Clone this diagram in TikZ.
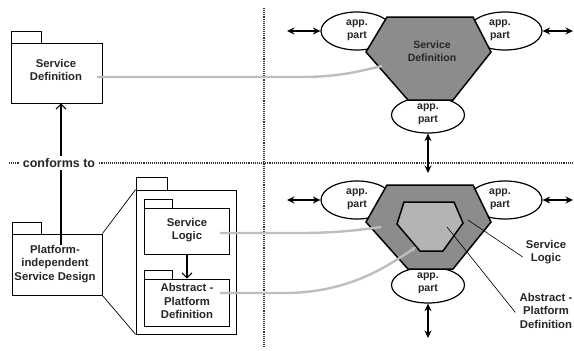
\documentclass[tikz,border=0pt]{standalone}
\usepackage{fontspec}
\setmainfont{Liberation Sans}
\usetikzlibrary{arrows.meta,shapes.geometric}
\definecolor{hexdark}{HTML}{8C8C8C}
\definecolor{hexlight}{HTML}{B4B4B4}
\definecolor{glink}{HTML}{BEBEBE}
\definecolor{txtc}{HTML}{262626}
\begin{document}
\begin{tikzpicture}[x=1pt,y=-1pt,
  lbl/.style={font=\bfseries\fontsize{10.5}{13}\selectfont, align=center, text=txtc, inner sep=0pt},
  biglbl/.style={lbl, font=\bfseries\fontsize{11.3}{13.5}\selectfont},
  pkgbody/.style={draw, line width=0.8pt, fill=white, inner sep=0pt},
  pkgtab/.style={draw, line width=0.8pt, fill=white, inner sep=0pt},
  appell/.style={ellipse, draw, line width=1.2pt, fill=white, inner sep=0pt},
  hexouter/.style={draw, line width=1.5pt, fill=hexdark},
  hexinner/.style={draw, line width=1.5pt, fill=hexlight},
  dblarrow/.style={{Stealth[length=7.5pt,width=7pt]}-{Stealth[length=7.5pt,width=7pt]}, line width=1.5pt},
  openarrow/.style={-{Straight Barb[length=5pt,width=10pt]}, line width=1.1pt},
  graylink/.style={glink, line width=2.4pt},
  pointer/.style={line width=0.6pt},
  sep/.style={densely dotted, line width=1.1pt, black!80}
]
\useasboundingbox (0,0) rectangle (574,351);

% separators
\draw[sep] (9,163) -- (574,163);
\draw[sep] (264,8) -- (264,348);

% left packages
\node[pkgtab, minimum width=29.5pt, minimum height=12pt] (tabA) at (26.4,37) {};
\node[pkgbody, minimum width=91pt, minimum height=60pt] (pkgA) at (57.2,73) {};
\node[biglbl] (txtA) at (56,70) {Service\\Definition};

\node[pkgtab, minimum width=29pt, minimum height=12pt] (tabB) at (26.5,228) {};
\node[pkgbody, minimum width=90pt, minimum height=61pt] (pkgB) at (57,264.5) {};
\node[biglbl] (txtB) at (55,264) {Platform-\\independent\\Service Design};

% conforms-to arrow
\coordinate (cfStart) at (61,245);
\draw[openarrow] (cfStart) -- (cfStart |- pkgA.south);
\node[lbl, font=\bfseries\fontsize{12.5}{14}\selectfont, fill=white, inner xsep=3pt, inner ysep=2pt] (conf) at (59,163) {conforms to};

% zoomed package
\node[pkgtab, minimum width=31pt, minimum height=13pt] (tabC) at (151.5,183.5) {};
\node[pkgbody, minimum width=100pt, minimum height=144pt] (pkgC) at (186,262) {};
\draw[line width=0.7pt] (pkgB.north east) -- (pkgC.north west);
\draw[line width=0.7pt] (pkgB.south east) -- (pkgC.south west);

\node[pkgtab, minimum width=28pt, minimum height=9pt] (tabD) at (158,203.5) {};
\node[pkgbody, minimum width=85pt, minimum height=46pt] (pkgD) at (186.5,231) {};
\node[biglbl] (txtD) at (187,230) {Service\\Logic};

\node[pkgtab, minimum width=28pt, minimum height=9pt] (tabE) at (158,274.5) {};
\node[pkgbody, minimum width=85pt, minimum height=47pt] (pkgE) at (186.5,302.5) {};
\node[biglbl] (txtE) at (187,301) {Abstract -\\Platform\\Definition};

\draw[openarrow] (pkgD.south -| txtD) -- (pkgE.north -| txtD);

% ===== top right: service definition =====
\node[appell, minimum width=72pt, minimum height=38pt] (eTL) at (357,31) {};
\node[appell, minimum width=74pt, minimum height=38pt] (eTR) at (505,31) {};
\node[appell, minimum width=73pt, minimum height=36pt] (eTB) at (428,115) {};
\coordinate (h1) at (387,17); \coordinate (h2) at (473,17); \coordinate (h3) at (491,52);
\coordinate (h4) at (453,100); \coordinate (h5) at (408,100); \coordinate (h6) at (366,52);
\draw[hexouter, line join=miter] (h1) -- (h2) -- (h3) -- (h4) -- (h5) -- (h6) -- cycle;
\node[lbl] (txtH) at (432,51) {Service\\Definition};
\node[lbl] (tTL) at (357,30.5) {app.\\part};
\node[lbl] (tTR) at (500,30.5) {app.\\part};
\node[lbl] (tTB) at (428,114.5) {app.\\part};

\coordinate (aTL) at (287,31);
\coordinate (aTR) at (573,31);
\coordinate (aTB) at (428,173);
\draw[dblarrow] (aTL) -- (eTL.west);
\draw[dblarrow] (eTR.east) -- (aTR);
\draw[dblarrow] (eTB.south) -- (aTB);

% ===== bottom right: design =====
\node[appell, minimum width=72pt, minimum height=38pt] (eBL) at (357,200) {};
\node[appell, minimum width=74pt, minimum height=38pt] (eBR) at (505,200) {};
\node[appell, minimum width=73pt, minimum height=36pt] (eBB) at (428,285) {};
\coordinate (g1) at (387,185); \coordinate (g2) at (473,185); \coordinate (g3) at (491,222);
\coordinate (g4) at (453,269); \coordinate (g5) at (408,269); \coordinate (g6) at (366,222);
\draw[hexouter, line join=miter] (g1) -- (g2) -- (g3) -- (g4) -- (g5) -- (g6) -- cycle;
\coordinate (i1) at (404,202); \coordinate (i2) at (454,202); \coordinate (i3) at (463,223);
\coordinate (i4) at (443,251); \coordinate (i5) at (420,251); \coordinate (i6) at (397,224);
\draw[hexinner, line join=miter] (i1) -- (i2) -- (i3) -- (i4) -- (i5) -- (i6) -- cycle;
\node[lbl] (tBL) at (357,199.5) {app.\\part};
\node[lbl] (tBR) at (500,199.5) {app.\\part};
\node[lbl] (tBB) at (428,283) {app.\\part};

\coordinate (bTL) at (287,200);
\coordinate (bTR) at (573,200);
\coordinate (bTB) at (428,338);
\draw[dblarrow] (bTL) -- (eBL.west);
\draw[dblarrow] (eBR.east) -- (bTR);
\draw[dblarrow] (eBB.south) -- (bTB);

% labels on the right
\node[biglbl] (lblSL) at (546,252) {Service\\Logic};
\node[biglbl] (lblAP) at (546,310.5) {Abstract -\\Platform\\Definition};
\coordinate (pSL) at (468,220);
\coordinate (pAP) at (447,227);
\draw[pointer] (pSL) -- ([xshift=-3pt,yshift=-5pt]lblSL.west);
\draw[pointer] (pAP) -- ([xshift=-4pt,yshift=-2pt]lblAP.west);

% gray links
\coordinate (gA1) at (97,77); \coordinate (gA2) at (382,66);
\draw[graylink] (gA1) -- (300,77) .. controls (340,77) and (360,71) .. (gA2);
\coordinate (gD1) at (220,233); \coordinate (gD2) at (381,227);
\draw[graylink] (gD1) -- (300,233) .. controls (335,233) and (360,230) .. (gD2);
\coordinate (gE1) at (220,293); \coordinate (gE2) at (416,247);
\draw[graylink, -{Stealth[length=5pt,width=5pt]}] (gE1) -- (290,293) .. controls (350,291) and (385,268) .. (gE2);
\end{tikzpicture}
\end{document}
